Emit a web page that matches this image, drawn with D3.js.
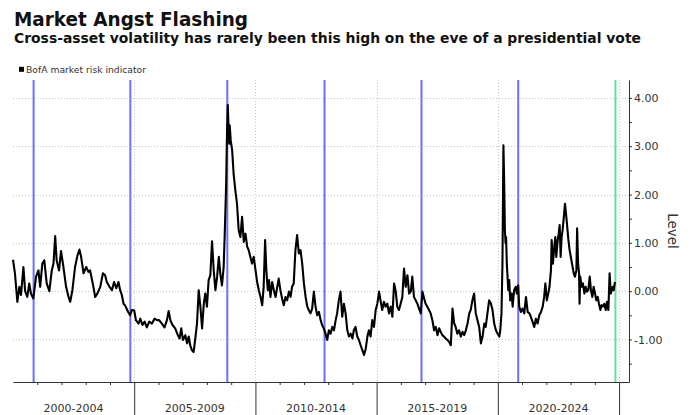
<!DOCTYPE html>
<html>
<head>
<meta charset="utf-8">
<script src="https://cdn.jsdelivr.net/npm/d3@7"></script>
<style>
  html, body { margin: 0; padding: 0; background: #fff; }
  svg { display: block; }
</style>
</head>
<body>
<svg id="chart" width="696" height="415"></svg>
<script>
// ---- text ----
const chartTitle = "Market Angst Flashing";
const chartSubtitle = "Cross-asset volatility has rarely been this high on the eve of a presidential vote";
const seriesName = "BofA market risk indicator";
const axisTitle = "Level";

// ---- x axis: five-year bands ----
const periods = ["2000-2004", "2005-2009", "2010-2014", "2015-2019", "2020-2024"];
const periodBreaks = [2005, 2010, 2015, 2020, 2025];
const yearTicks = [2001, 2002, 2003, 2004, 2006, 2007, 2008, 2009, 2011, 2012, 2013, 2014,
                   2016, 2017, 2018, 2019, 2021, 2022, 2023, 2024];

// ---- y axis ----
const levelTicks = [-1, 0, 1, 2, 3, 4];
const halfTicks = [-1.5, -0.5, 0.5, 1.5, 2.5, 3.5];

// ---- US presidential election days (decimal years) ----
const electionDays = [2000.85, 2004.84, 2008.84, 2012.85, 2016.85, 2020.84];
const voteDay2024 = 2024.85;

// ---- BofA market risk indicator: observation time (decimal year) ----
const obsYear = [
  2000.00, 2000.08, 2000.18, 2000.26, 2000.33, 2000.43, 2000.50, 2000.59, 2000.67, 2000.74, 2000.84, 2000.95,
  2001.05, 2001.12, 2001.21, 2001.29, 2001.39, 2001.50, 2001.60, 2001.67, 2001.74, 2001.80, 2001.90, 2001.98,
  2002.08, 2002.19, 2002.29, 2002.36, 2002.45, 2002.56, 2002.66, 2002.74, 2002.81, 2002.91,
  2003.02, 2003.11, 2003.18, 2003.29, 2003.39, 2003.48, 2003.60, 2003.71, 2003.80, 2003.87, 2003.98,
  2004.08, 2004.17, 2004.26, 2004.35, 2004.42, 2004.49, 2004.56, 2004.63, 2004.74, 2004.83, 2004.90,
  2005.00, 2005.07, 2005.18, 2005.25, 2005.34, 2005.43, 2005.52, 2005.62, 2005.73, 2005.84, 2005.94,
  2006.03, 2006.14, 2006.25, 2006.35, 2006.42, 2006.49, 2006.58, 2006.69, 2006.80, 2006.87, 2006.94,
  2007.01, 2007.11, 2007.18, 2007.25, 2007.31, 2007.38, 2007.45, 2007.52, 2007.59, 2007.66, 2007.73, 2007.80, 2007.87, 2007.93,
  2008.00, 2008.07, 2008.14, 2008.21, 2008.28, 2008.35, 2008.42, 2008.49, 2008.55, 2008.62, 2008.69, 2008.73, 2008.79, 2008.83, 2008.86, 2008.90, 2008.92, 2008.94, 2008.98,
  2009.04, 2009.10, 2009.17, 2009.24, 2009.31, 2009.38, 2009.45, 2009.52, 2009.59, 2009.66, 2009.72, 2009.79, 2009.86, 2009.93,
  2010.00, 2010.07, 2010.14, 2010.21, 2010.28, 2010.34, 2010.40, 2010.45, 2010.51, 2010.56, 2010.62, 2010.69, 2010.76, 2010.83, 2010.90, 2010.96,
  2011.03, 2011.10, 2011.17, 2011.24, 2011.31, 2011.38, 2011.45, 2011.51, 2011.58, 2011.65, 2011.72, 2011.79, 2011.86, 2011.93,
  2012.00, 2012.07, 2012.14, 2012.20, 2012.27, 2012.34, 2012.41, 2012.48, 2012.55, 2012.62, 2012.69, 2012.75, 2012.82, 2012.89, 2012.96,
  2013.03, 2013.10, 2013.17, 2013.24, 2013.31, 2013.37, 2013.44, 2013.51, 2013.58, 2013.65, 2013.72, 2013.79, 2013.86, 2013.93,
  2014.00, 2014.06, 2014.13, 2014.20, 2014.27, 2014.34, 2014.41, 2014.48, 2014.55, 2014.62, 2014.68, 2014.75, 2014.82, 2014.89, 2014.96,
  2015.03, 2015.10, 2015.17, 2015.23, 2015.30, 2015.37, 2015.44, 2015.51, 2015.58, 2015.65, 2015.72, 2015.79, 2015.85, 2015.92, 2015.99,
  2016.06, 2016.13, 2016.20, 2016.27, 2016.34, 2016.41, 2016.47, 2016.54, 2016.61, 2016.68, 2016.75, 2016.82, 2016.89, 2016.96,
  2017.02, 2017.09, 2017.16, 2017.23, 2017.30, 2017.37, 2017.44, 2017.51, 2017.58, 2017.64, 2017.71, 2017.78, 2017.85, 2017.92, 2017.99,
  2018.06, 2018.13, 2018.20, 2018.26, 2018.33, 2018.40, 2018.47, 2018.54, 2018.61, 2018.68, 2018.75, 2018.82, 2018.88, 2018.95,
  2019.02, 2019.09, 2019.16, 2019.23, 2019.30, 2019.37, 2019.44, 2019.50, 2019.57, 2019.64, 2019.71, 2019.78, 2019.85, 2019.92, 2019.99,
  2020.06, 2020.10, 2020.15, 2020.19, 2020.23, 2020.26, 2020.29, 2020.32, 2020.34, 2020.37, 2020.43, 2020.47, 2020.51, 2020.57, 2020.61, 2020.67, 2020.74, 2020.78, 2020.84, 2020.88, 2020.95,
  2021.02, 2021.09, 2021.16, 2021.23, 2021.30, 2021.36, 2021.43, 2021.50, 2021.57, 2021.64, 2021.71, 2021.78, 2021.85, 2021.91, 2021.96,
  2022.02, 2022.08, 2022.13, 2022.19, 2022.22, 2022.27, 2022.33, 2022.37, 2022.41, 2022.47, 2022.51, 2022.55, 2022.59, 2022.63, 2022.67, 2022.71, 2022.77, 2022.81, 2022.85, 2022.91, 2022.96,
  2023.02, 2023.07, 2023.13, 2023.18, 2023.24, 2023.27, 2023.31, 2023.35, 2023.37, 2023.40, 2023.46, 2023.51, 2023.57, 2023.62, 2023.68, 2023.73, 2023.79, 2023.84, 2023.90, 2023.95,
  2024.01, 2024.06, 2024.12, 2024.17, 2024.23, 2024.28, 2024.34, 2024.39, 2024.45, 2024.50, 2024.56, 2024.61, 2024.66, 2024.70, 2024.74, 2024.78, 2024.83
];

// ---- BofA market risk indicator: level ----
const riskLevel = [
  0.65, 0.37, -0.22, 0.09, -0.08, 0.50, 0.00, -0.12, 0.16, -0.05, -0.15, 0.30,
  0.43, 0.09, 0.57, 0.64, 0.16, 0.00, 0.43, 0.57, 1.14, 0.64, 0.43, 0.83,
  0.50, 0.09, -0.12, -0.22, 0.02, 0.50, 0.74, 0.86, 0.71, 0.37,
  0.50, 0.40, 0.43, 0.16, -0.12, -0.05, 0.09, 0.37, 0.33, 0.19, 0.09,
  0.02, 0.19, 0.06, 0.19, 0.02, -0.08, -0.26, -0.30, -0.42, -0.50, -0.39,
  -0.40, -0.60, -0.67, -0.57, -0.70, -0.63, -0.75, -0.63, -0.67, -0.57, -0.60,
  -0.60, -0.67, -0.75, -0.60, -0.41, -0.60, -0.70, -0.77, -0.91, -0.98, -0.77,
  -1.01, -0.91, -1.08, -0.94, -1.12, -1.22, -1.26, -0.98, -0.67, 0.02, -0.32, -0.77, -0.26, -0.05,
  -0.32, 0.23, 0.33, 1.03, 0.43, 0.02, 0.30, 0.71, 0.37, 0.12, 0.50, 1.12, 2.16, 3.33, 3.85, 3.26, 3.05, 3.43, 3.12,
  2.92, 2.43, 2.09, 1.81, 1.26, 1.12, 1.54, 1.02, 1.19, 0.92, 0.85, 0.71, 0.57, 0.71,
  0.45, 0.19, 0.02, -0.12, -0.29, 0.09, 1.06, 0.43, 0.02, 0.23, -0.12, 0.19, 0.02, -0.12, 0.09, 0.26,
  0.02, -0.15, -0.29, -0.12, -0.19, -0.01, -0.12, 0.09, 0.16, 0.85, 1.16, 0.78, 0.85, 0.57,
  0.16, -0.12, -0.32, -0.39, -0.46, -0.36, -0.01, -0.32, -0.50, -0.43, -0.60, -0.70, -0.77, -0.88, -1.01,
  -0.81, -0.88, -0.74, -0.81, -0.60, -0.46, -0.19, -0.01, -0.53, -0.26, -0.46, -0.81, -0.94, -0.88,
  -0.98, -0.81, -0.74, -0.94, -1.01, -1.12, -1.22, -1.32, -1.19, -0.94, -0.81, -0.94, -0.60, -0.74, -0.39,
  -0.26, -0.01, -0.22, -0.39, -0.22, -0.32, -0.26, -0.46, -0.32, -0.53, 0.16, -0.01, -0.32, -0.39, -0.26,
  -0.12, 0.47, 0.09, 0.33, -0.05, -0.01, 0.30, -0.12, -0.19, -0.26, -0.36, -0.46, -0.01, -0.15,
  -0.26, -0.32, -0.39, -0.46, -0.60, -0.81, -0.74, -0.91, -0.77, -0.84, -0.91, -0.94, -0.98, -1.01, -1.05,
  -1.12, -0.36, -0.67, -0.74, -0.88, -0.81, -0.94, -0.84, -0.91, -0.81, -0.67, -0.46, -0.39, -0.19,
  -0.05, -0.46, -0.60, -0.74, -1.08, -0.94, -0.67, -0.74, -0.46, -0.19, -0.25, -0.39, -0.67, -0.81, -0.88,
  -0.94, -0.81, -0.46, 0.57, 3.02, 2.30, 1.26, 0.99, 1.12, 0.57, 0.02, 0.23, -0.19, -0.05, -0.32, 0.02, 0.09, -0.05, 0.12, -0.32, -0.43,
  -0.36, -0.46, -0.12, -0.43, -0.46, -0.53, -0.63, -0.74, -0.57, -0.67, -0.50, -0.43, -0.32, -0.12, 0.16,
  -0.19, -0.05, 0.09, 0.43, 1.06, 0.57, 0.92, 1.12, 0.71, 1.06, 1.19, 1.37, 0.71, 1.12, 1.26, 1.47, 1.81, 1.61, 1.40, 1.06, 0.85,
  0.68, 0.54, 0.37, 0.30, 0.43, 1.30, 0.57, 0.37, -0.26, 0.30, 0.09, 0.16, -0.05, 0.09, -0.01, 0.02, 0.30, 0.02, -0.12, 0.09,
  -0.05, -0.19, -0.12, -0.26, -0.39, -0.29, -0.32, -0.26, -0.39, -0.22, -0.39, 0.37, -0.05, 0.02, 0.09, 0.02, 0.19
];

// ---- layout ----
const W = 696, H = 415;
const plot = { left: 13, right: 629, top: 80, bottom: 382 };
const FONT = "'DejaVu Sans', Verdana, sans-serif";

const svg = d3.select("#chart");
svg.append("rect").attr("width", W).attr("height", H).attr("fill", "#fff");

const x = d3.scaleLinear().domain([2000, 2025.41]).range([plot.left, plot.right]);
const y = d3.scaleLinear().domain([-1.88, 4.37]).range([plot.bottom, plot.top]);

// ---- headings ----
svg.append("text")
  .attr("x", 14).attr("y", 26)
  .attr("font-family", FONT).attr("font-weight", "bold").attr("font-size", 19.5)
  .attr("fill", "#111")
  .attr("textLength", 234).attr("lengthAdjust", "spacingAndGlyphs")
  .text(chartTitle);

svg.append("text")
  .attr("x", 14).attr("y", 43.3)
  .attr("font-family", FONT).attr("font-weight", "bold").attr("font-size", 13.5)
  .attr("fill", "#111")
  .attr("textLength", 627).attr("lengthAdjust", "spacingAndGlyphs")
  .text(chartSubtitle);

// ---- legend ----
svg.append("rect").attr("x", 19).attr("y", 66.8).attr("width", 5).attr("height", 5).attr("fill", "#000");
svg.append("text")
  .attr("x", 26).attr("y", 72.5)
  .attr("font-family", FONT).attr("font-size", 8.5).attr("fill", "#333")
  .attr("textLength", 120).attr("lengthAdjust", "spacingAndGlyphs")
  .text(seriesName);

// ---- dotted grid ----
const grid = svg.append("g").attr("stroke", "#c4c4c4").attr("stroke-width", 1).attr("stroke-dasharray", "1,2");
grid.selectAll("line.h").data(levelTicks).join("line").attr("class", "h")
  .attr("x1", plot.left).attr("x2", plot.right)
  .attr("y1", d => Math.round(y(d)) + 0.5).attr("y2", d => Math.round(y(d)) + 0.5);
grid.selectAll("line.v").data(periodBreaks).join("line").attr("class", "v")
  .attr("x1", d => Math.round(x(d)) + 0.5).attr("x2", d => Math.round(x(d)) + 0.5)
  .attr("y1", plot.top).attr("y2", plot.bottom);

// ---- election-day markers ----
svg.append("g").selectAll("line").data(electionDays).join("line")
  .attr("x1", d => x(d)).attr("x2", d => x(d))
  .attr("y1", plot.top).attr("y2", plot.bottom)
  .attr("stroke", "#6d6dff").attr("stroke-width", 2);

svg.append("line")
  .attr("x1", x(voteDay2024)).attr("x2", x(voteDay2024))
  .attr("y1", plot.top).attr("y2", plot.bottom)
  .attr("stroke", "#63e19a").attr("stroke-width", 2);

// ---- series ----
const series = obsYear.map((t, i) => [t, riskLevel[i]]);
svg.append("path")
  .datum(series)
  .attr("fill", "none")
  .attr("stroke", "#000")
  .attr("stroke-width", 2.1)
  .attr("stroke-linejoin", "round")
  .attr("d", d3.line().x(d => x(d[0])).y(d => y(d[1])));

// ---- right axis ----
const fmt = d => d3.format(".2f")(d).replace("\u2212", "-");
const yAxisG = svg.append("g").attr("transform", `translate(${plot.right},0)`);
yAxisG.call(d3.axisRight(y).tickValues(levelTicks).tickSize(3).tickSizeOuter(0).tickPadding(2).tickFormat(fmt));
yAxisG.append("g").call(d3.axisRight(y).tickValues(halfTicks).tickSize(3).tickSizeOuter(0).tickFormat(""))
  .select(".domain").remove();
yAxisG.selectAll("path, line").attr("stroke", "#333");
yAxisG.selectAll("text").attr("font-family", FONT).attr("font-size", 11).attr("fill", "#333");

svg.append("text")
  .attr("transform", `translate(668,231) rotate(90)`)
  .attr("text-anchor", "middle")
  .attr("font-family", FONT).attr("font-size", 13.5).attr("fill", "#333")
  .text(axisTitle);

// ---- bottom axis ----
const xAxisG = svg.append("g").attr("transform", `translate(0,${plot.bottom})`);
xAxisG.call(d3.axisBottom(x).tickValues(yearTicks).tickSize(3).tickSizeOuter(0).tickFormat(""));
xAxisG.append("g").call(d3.axisBottom(x).tickValues(periodBreaks).tickSize(H - plot.bottom).tickSizeOuter(0).tickFormat(""))
  .select(".domain").remove();

const band = d3.scaleBand().domain(periods).range([x(2000), x(2025)]);
const labelG = xAxisG.append("g").call(d3.axisBottom(band).tickSize(0).tickPadding(0));
labelG.select(".domain").remove();
labelG.selectAll("text")
  .attr("y", 29.6).attr("dy", null)
  .attr("font-family", FONT).attr("font-size", 11).attr("fill", "#333");
xAxisG.selectAll("path, line").attr("stroke", "#333");
</script>
</body>
</html>
